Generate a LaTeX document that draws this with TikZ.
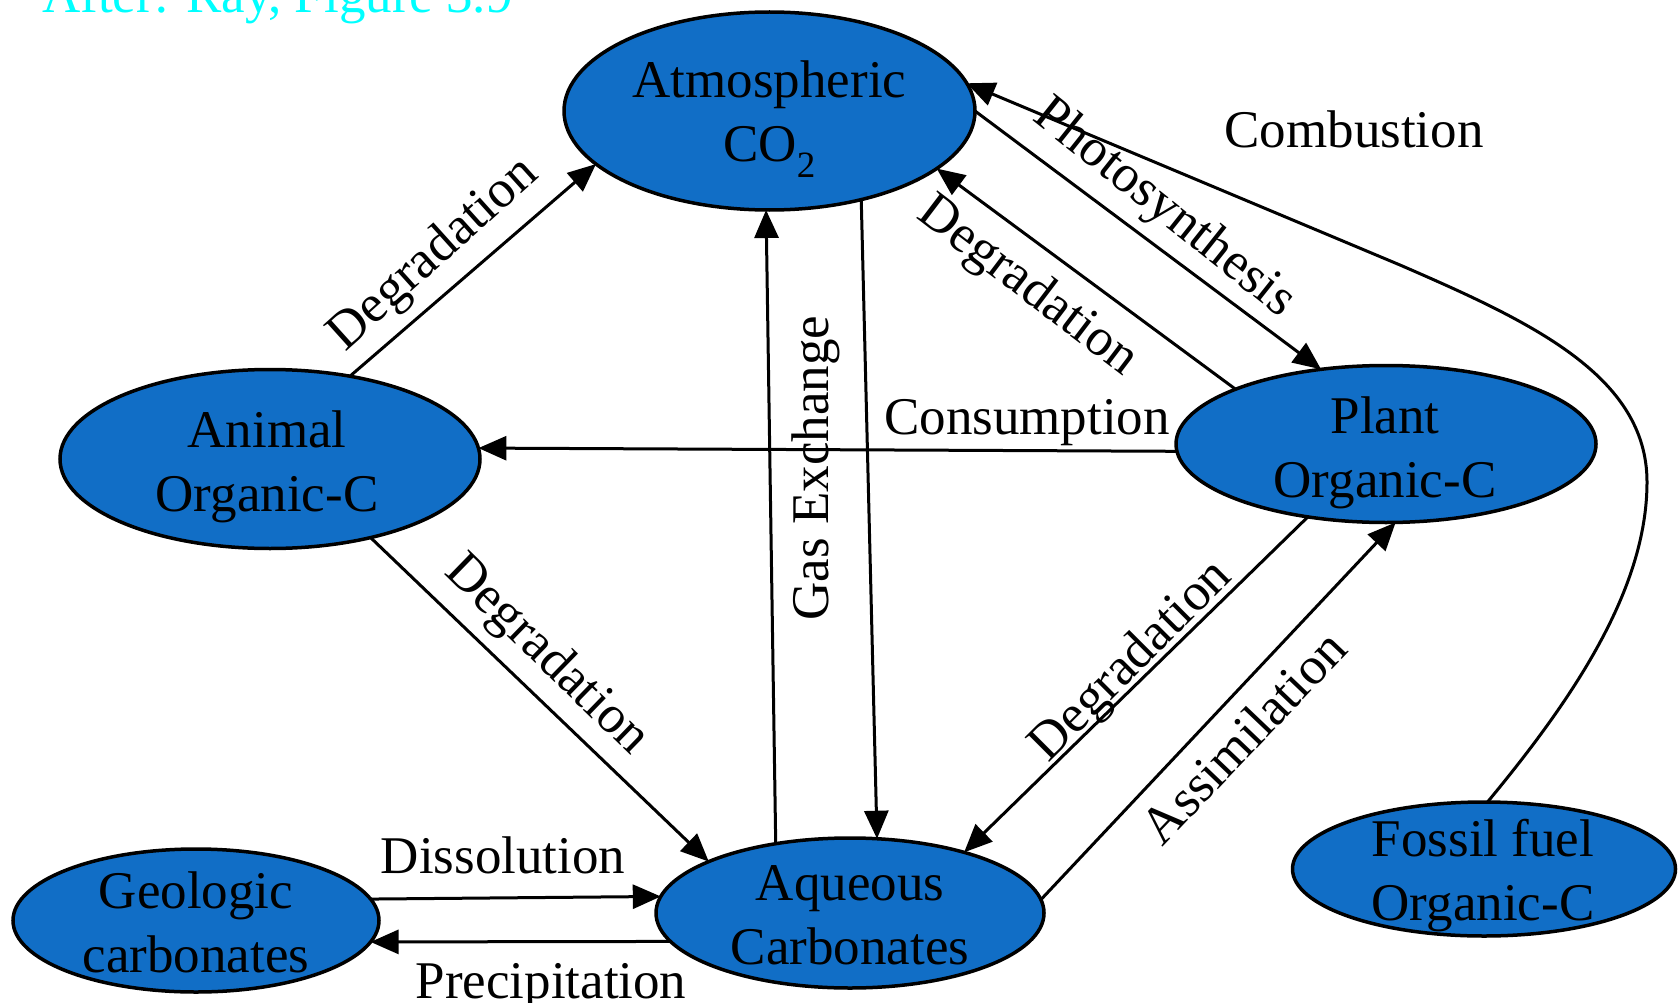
\documentclass[tikz,border=0pt]{standalone}
\usepackage{fontspec}
\setmainfont{Liberation Serif}
\usetikzlibrary{arrows.meta,shapes.geometric}
\definecolor{blobblue}{RGB}{17,110,198}
\definecolor{notecyan}{RGB}{0,255,255}
\newcommand\twoline[2]{\begin{tabular}[t]{@{}c@{}}#1\\#2\end{tabular}}
\begin{document}
\begin{tikzpicture}[x=1pt,y=-1pt,
  blob/.style={ellipse, draw=black, line width=3.5pt, fill=blobblue, inner sep=0pt, outer sep=0pt},
  txt/.style={font=\fontsize{53}{64}\selectfont, inner sep=0pt, anchor=base},
  lbl/.style={font=\fontsize{53}{64}\selectfont, inner sep=0pt},
  flow/.style={draw=black, line width=3pt, -{Triangle[length=28pt,width=24pt]}}]
\useasboundingbox (0,0) rectangle (1680,1003);
\fill[white] (0,0) rectangle (1680,1003);

% reservoirs
\node[blob, minimum width=411pt, minimum height=198pt] (atm) at (769.5,111) {};
\node[blob, minimum width=420pt, minimum height=179pt] (animal) at (270,459) {};
\node[blob, minimum width=420pt, minimum height=157pt] (plant) at (1386,444) {};
\node[blob, minimum width=366pt, minimum height=143pt] (geo) at (196,920.5) {};
\node[blob, minimum width=388pt, minimum height=150pt] (aq) at (850,913) {};
\node[blob, minimum width=383pt, minimum height=134pt] (fossil) at (1484,869) {};

\node[txt] (atmT) at (769.5,98) {\twoline{Atmospheric}{CO\textsubscript{2}}};
\node[txt] (animalT) at (267,447) {\twoline{Animal}{Organic-C}};
\node[txt] (plantT) at (1385,433) {\twoline{Plant}{Organic-C}};
\node[txt] (geoT) at (196,908) {\twoline{Geologic}{carbonates}};
\node[txt] (aqT) at (850,900) {\twoline{Aqueous}{Carbonates}};
\node[txt] (fossilT) at (1483,856) {\twoline{Fossil fuel}{Organic-C}};

% note
\node[txt, anchor=base west, text=notecyan] (note) at (42,13) {After: Ray, Figure 3.9};

% fluxes
\draw[flow] (animal.46.7) -- (atm.-163.6);
\draw[flow] (atm.0.6) -- (plant.131.9);
\draw[flow] (plant.160.1) -- (atm.-19.2);
\coordinate (cR) at (1647,482);
\coordinate (cT) at (1400,265);
\draw[flow] (fossil.87.5) .. controls (1572,700) and (1647,590) .. (cR)
  .. controls (1647,375) and (1529,321) .. (cT) -- (atm.8.8);
\draw[flow] (plant.182.5) -- (animal.3);
\draw[flow] (aq.137.7) -- (atm.-92.4);
\draw[flow] (atm.-44.3) -- (aq.70.4);
\draw[flow] (animal.-38.8) -- (aq.160.1);
\draw[flow] (plant.-137.4) -- (aq.28);
\draw[flow] (aq.4.7) -- (plant.-83.4);
\draw[flow] (geo.7.7) -- (aq.175.2);
\draw[flow] (aq.189) -- (geo.-7.9);

% labels
\node[lbl, rotate=42] (l1) at (434,255) {Degradation};
\node[lbl, rotate=-38.5] (l2) at (1164,209) {Photosynthesis};
\node[lbl, rotate=-37.2] (l3) at (1027,287) {Degradation};
\node[txt] (l4) at (1354,148) {Combustion};
\node[txt] (l5) at (1027,434) {Consumption};
\node[lbl, rotate=90] (l6) at (816,468) {Gas Exchange};
\node[lbl, rotate=-44.2] (l7) at (546,656) {Degradation};
\node[lbl, rotate=45] (l8) at (1132,662) {Degradation};
\node[lbl, rotate=46.4] (l9) at (1243,737) {Assimilation};
\node[txt] (l10) at (503,873) {Dissolution};
\node[txt] (l11) at (551,998) {Precipitation};
\end{tikzpicture}
\end{document}
